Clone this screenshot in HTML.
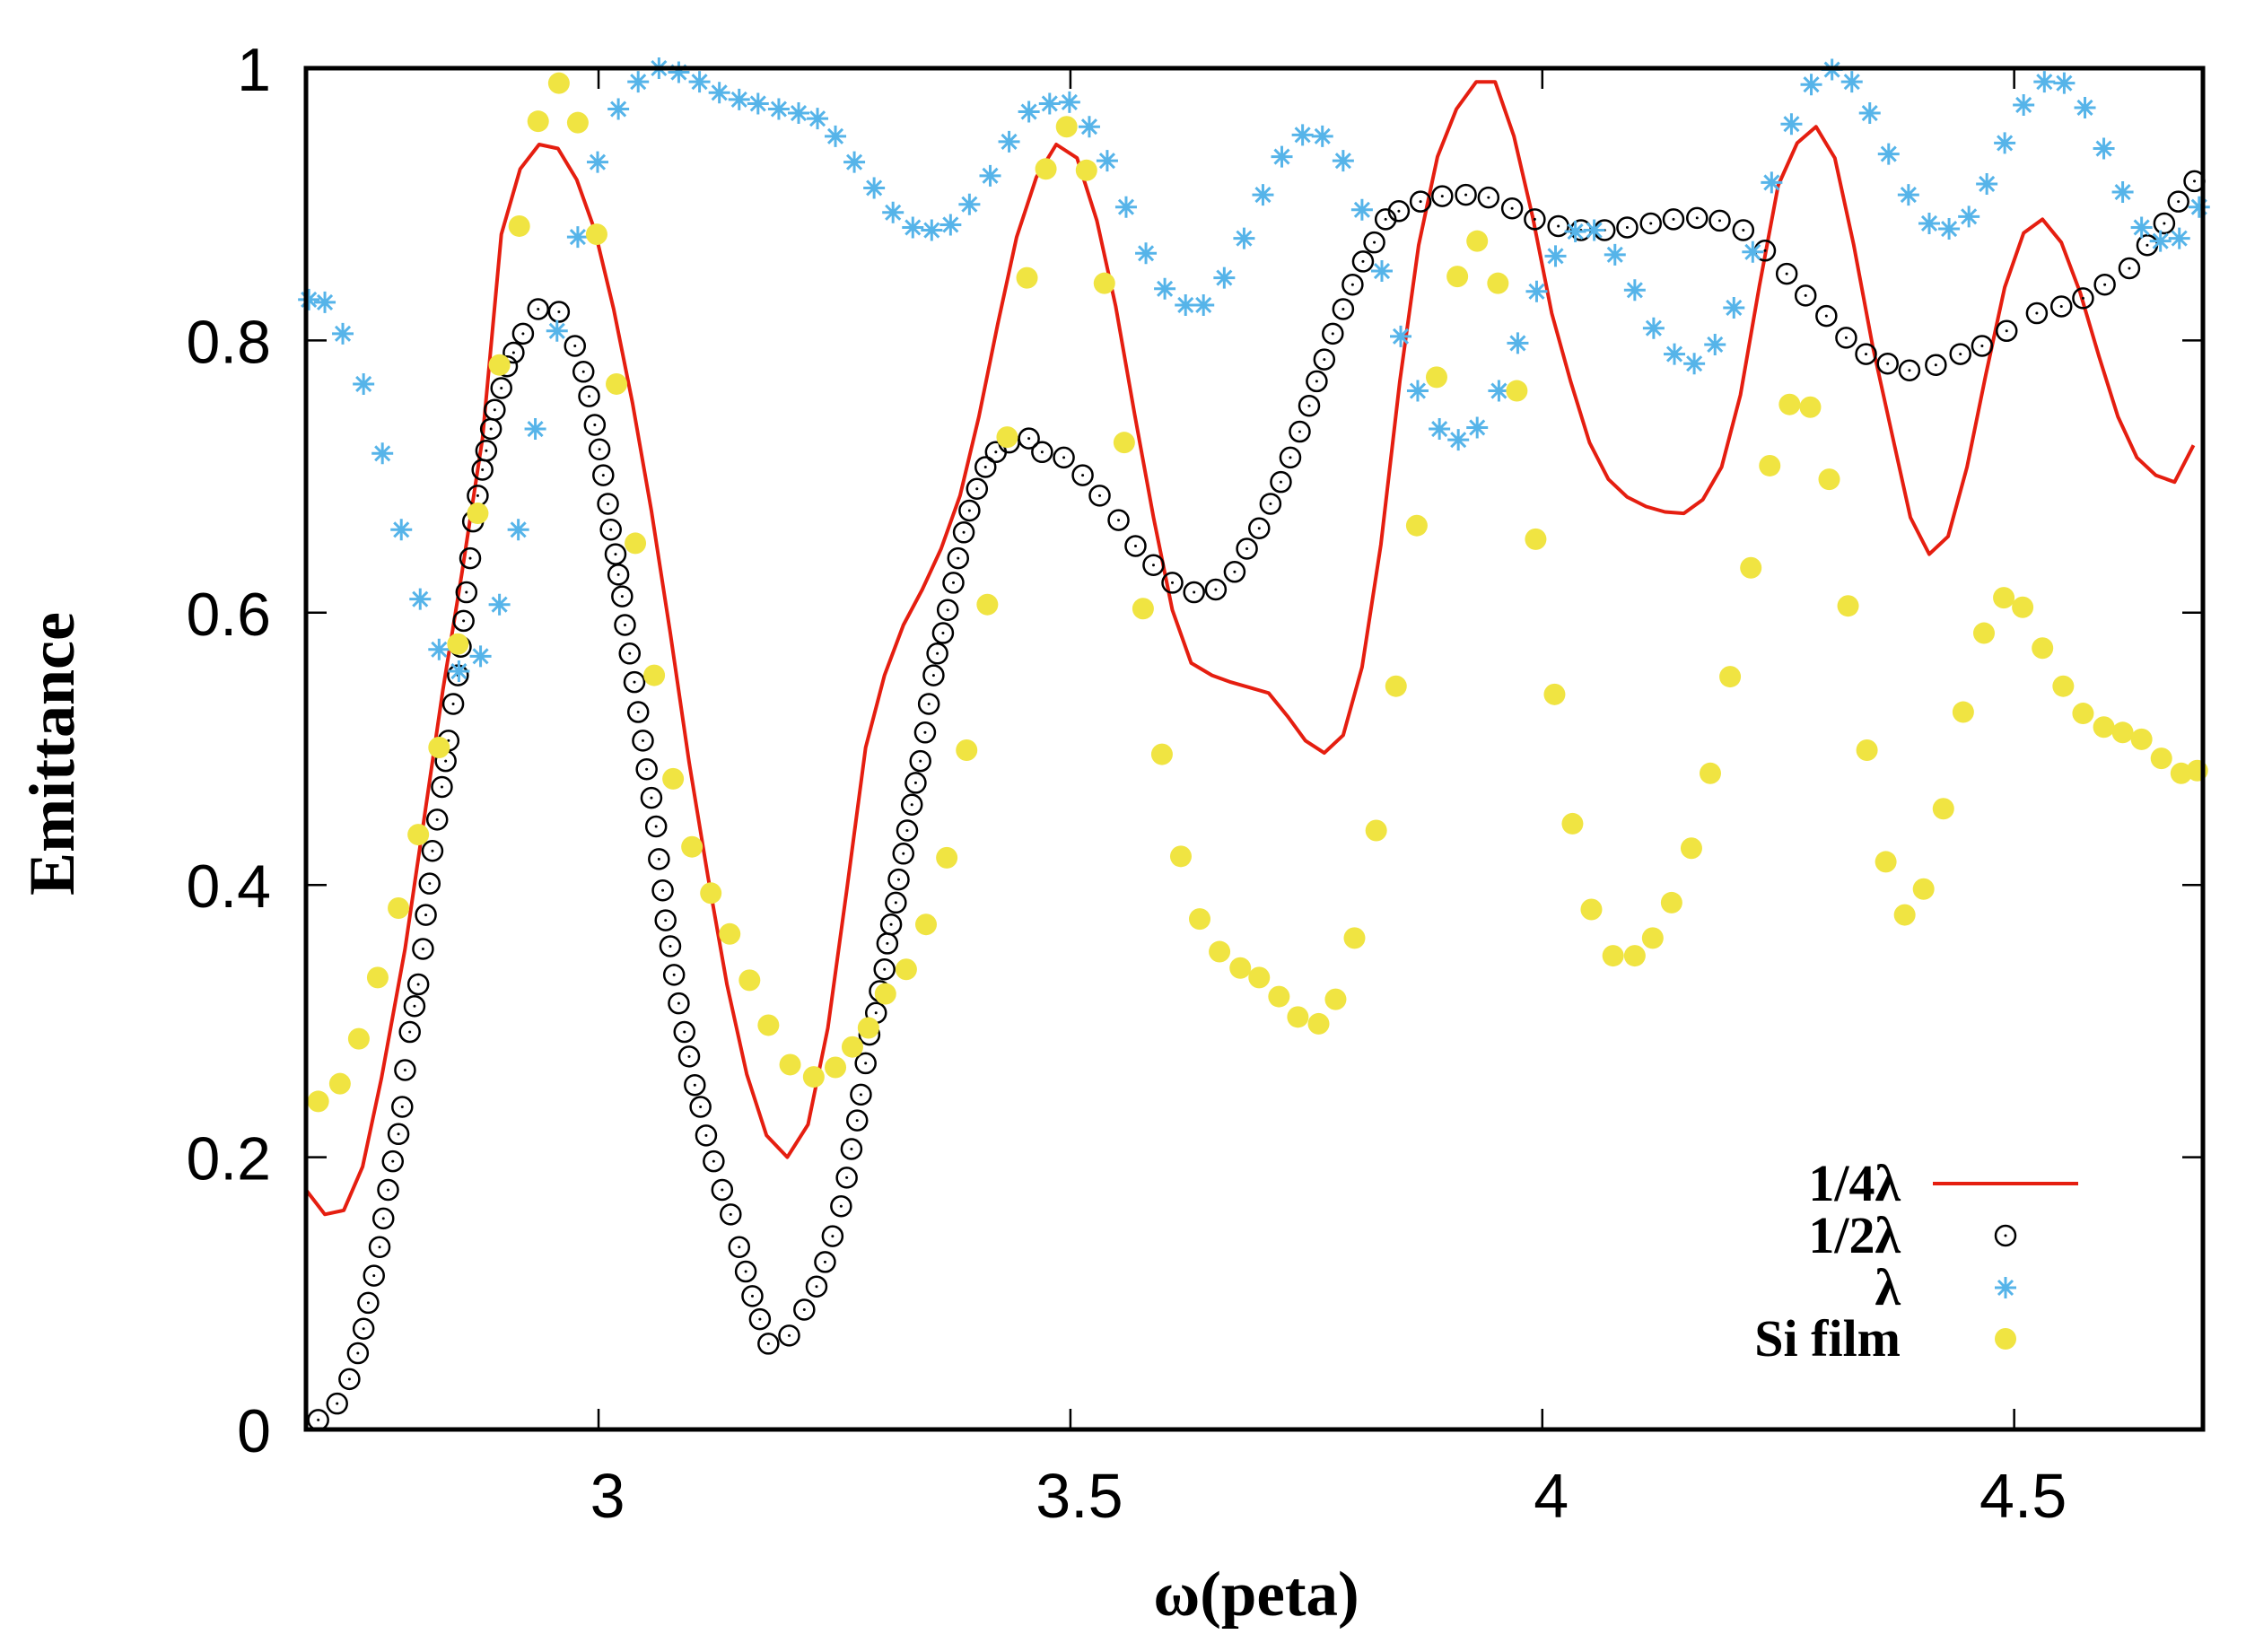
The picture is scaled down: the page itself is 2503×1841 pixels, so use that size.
<!DOCTYPE html>
<html><head><meta charset="utf-8"><style>
html,body{margin:0;padding:0;background:#fff;}
svg{display:block;}
</style></head><body>
<svg id="chart" width="2503" height="1841" viewBox="0 0 2503 1841" xmlns="http://www.w3.org/2000/svg">
<rect x="0" y="0" width="2503" height="1841" fill="#fff"/>
<g id="marks"></g>
<g id="axes"></g>
<text x="1400" y="1800" text-anchor="middle" font-family="Liberation Serif, serif" font-weight="bold" font-size="71">ω(peta)</text>
<text transform="translate(82,840) rotate(-90)" text-anchor="middle" font-family="Liberation Serif, serif" font-weight="bold" font-size="72">Emittance</text>
<g id="legend" font-family="Liberation Serif, serif" font-weight="bold" font-size="58">
<g>
<text x="2118" y="1338" text-anchor="end">1/4λ</text>
<line x1="2154" y1="1319" x2="2316" y2="1319" stroke="#e51e10" stroke-width="4"/>
</g>
<g>
<text x="2118" y="1396" text-anchor="end">1/2λ</text>
<circle cx="2235" cy="1377" r="11" fill="none" stroke="#000" stroke-width="2.5"/>
<circle cx="2235" cy="1377" r="1.5" fill="#000"/>
</g>
<g>
<text x="2118" y="1454" text-anchor="end">λ</text>
<path d="M2223,1435h24M2235,1423v24M2227,1427l16,16M2243,1427l-16,16" stroke="#56b4e9" stroke-width="3"/>
</g>
<g>
<text x="2118" y="1511" text-anchor="end">Si film</text>
<circle cx="2235" cy="1492" r="12" fill="#f0e442"/>
</g>
</g>
</svg>
<script>
const xTicks = [3, 3.5, 4, 4.5];
const xTickLabels = ["3", "3.5", "4", "4.5"];
const yTicks = [0, 0.2, 0.4, 0.6, 0.8, 1];
const yTickLabels = ["0", "0.2", "0.4", "0.6", "0.8", "1"];

const quarterX = [2.69,2.71,2.73,2.75,2.77,2.795,2.815,2.835,2.855,2.877,2.897,2.917,2.937,2.957,2.977,2.996,3.016,3.036,3.056,3.076,3.096,3.116,3.136,3.157,3.178,3.2,3.222,3.243,3.263,3.283,3.303,3.323,3.343,3.363,3.383,3.403,3.423,3.443,3.464,3.485,3.507,3.528,3.548,3.568,3.588,3.608,3.628,3.65,3.67,3.69,3.71,3.73,3.749,3.769,3.789,3.809,3.829,3.849,3.869,3.889,3.909,3.93,3.95,3.97,3.99,4.01,4.03,4.05,4.07,4.09,4.11,4.13,4.15,4.17,4.19,4.21,4.23,4.25,4.27,4.29,4.31,4.33,4.35,4.37,4.39,4.41,4.43,4.45,4.47,4.49,4.51,4.53,4.55,4.57,4.59,4.61,4.63,4.65,4.67,4.69];
const quarterY = [0.176,0.158,0.161,0.193,0.258,0.353,0.448,0.543,0.628,0.728,0.878,0.926,0.944,0.941,0.918,0.881,0.823,0.754,0.675,0.585,0.49,0.406,0.327,0.261,0.216,0.2,0.224,0.295,0.396,0.501,0.554,0.591,0.617,0.647,0.686,0.744,0.812,0.876,0.92,0.944,0.934,0.888,0.825,0.746,0.67,0.602,0.563,0.554,0.549,0.545,0.541,0.524,0.506,0.497,0.51,0.56,0.65,0.77,0.87,0.935,0.97,0.99,0.99,0.95,0.89,0.82,0.77,0.725,0.698,0.685,0.678,0.674,0.673,0.683,0.707,0.76,0.84,0.914,0.945,0.957,0.934,0.87,0.796,0.733,0.67,0.643,0.656,0.707,0.775,0.839,0.879,0.889,0.872,0.835,0.788,0.744,0.714,0.701,0.696,0.723];

const halfX = [2.703,2.723,2.736,2.745,2.751,2.756,2.762,2.768,2.772,2.777,2.782,2.788,2.792,2.795,2.800,2.805,2.809,2.814,2.817,2.821,2.824,2.829,2.834,2.838,2.841,2.846,2.851,2.854,2.857,2.860,2.864,2.867,2.872,2.877,2.881,2.886,2.890,2.897,2.903,2.910,2.920,2.936,2.958,2.975,2.984,2.990,2.996,3.001,3.005,3.010,3.013,3.018,3.021,3.025,3.028,3.033,3.038,3.042,3.047,3.051,3.056,3.061,3.064,3.068,3.071,3.076,3.080,3.085,3.091,3.096,3.102,3.108,3.114,3.122,3.131,3.140,3.149,3.156,3.163,3.171,3.180,3.202,3.218,3.231,3.240,3.248,3.257,3.263,3.268,3.274,3.278,3.283,3.287,3.294,3.298,3.303,3.306,3.310,3.315,3.318,3.323,3.327,3.332,3.336,3.341,3.346,3.350,3.355,3.359,3.365,3.370,3.376,3.381,3.387,3.393,3.401,3.410,3.421,3.435,3.456,3.470,3.493,3.513,3.531,3.551,3.569,3.588,3.608,3.631,3.654,3.674,3.687,3.700,3.712,3.723,3.733,3.743,3.753,3.761,3.769,3.778,3.789,3.799,3.810,3.822,3.834,3.848,3.871,3.894,3.919,3.943,3.968,3.992,4.017,4.041,4.066,4.090,4.115,4.139,4.164,4.188,4.213,4.236,4.259,4.279,4.301,4.322,4.343,4.366,4.389,4.417,4.443,4.466,4.492,4.524,4.550,4.573,4.596,4.622,4.641,4.659,4.674,4.691];
const halfY = [0.007,0.019,0.037,0.056,0.074,0.093,0.113,0.134,0.155,0.176,0.197,0.217,0.237,0.264,0.292,0.311,0.327,0.353,0.378,0.401,0.425,0.448,0.472,0.491,0.506,0.533,0.554,0.575,0.594,0.615,0.640,0.667,0.686,0.705,0.719,0.735,0.749,0.765,0.781,0.791,0.805,0.823,0.821,0.796,0.777,0.759,0.738,0.720,0.701,0.680,0.661,0.643,0.628,0.612,0.591,0.570,0.549,0.527,0.506,0.485,0.464,0.443,0.419,0.396,0.374,0.355,0.334,0.313,0.292,0.274,0.253,0.237,0.216,0.197,0.176,0.158,0.134,0.116,0.098,0.081,0.063,0.069,0.088,0.105,0.123,0.142,0.164,0.185,0.206,0.227,0.246,0.269,0.290,0.306,0.322,0.338,0.357,0.371,0.387,0.404,0.423,0.440,0.459,0.475,0.491,0.512,0.533,0.554,0.570,0.585,0.602,0.622,0.640,0.659,0.675,0.691,0.707,0.718,0.725,0.728,0.718,0.714,0.701,0.686,0.668,0.649,0.635,0.622,0.615,0.617,0.630,0.647,0.662,0.680,0.696,0.714,0.733,0.752,0.770,0.786,0.805,0.823,0.841,0.858,0.872,0.889,0.895,0.902,0.906,0.907,0.905,0.897,0.889,0.884,0.881,0.881,0.883,0.886,0.889,0.890,0.888,0.881,0.866,0.849,0.833,0.818,0.802,0.790,0.783,0.778,0.782,0.790,0.796,0.807,0.820,0.825,0.831,0.841,0.853,0.870,0.886,0.902,0.917];

const lambdaX = [2.693,2.710,2.729,2.751,2.771,2.791,2.811,2.831,2.852,2.875,2.895,2.915,2.933,2.956,2.978,2.999,3.021,3.042,3.064,3.085,3.107,3.128,3.149,3.169,3.191,3.212,3.232,3.251,3.271,3.292,3.312,3.333,3.353,3.373,3.393,3.415,3.435,3.456,3.478,3.499,3.520,3.539,3.559,3.580,3.600,3.622,3.641,3.663,3.684,3.704,3.724,3.746,3.767,3.789,3.809,3.830,3.850,3.868,3.891,3.911,3.931,3.954,3.974,3.994,4.014,4.035,4.055,4.077,4.098,4.118,4.140,4.161,4.183,4.203,4.223,4.243,4.264,4.285,4.307,4.328,4.347,4.367,4.388,4.410,4.431,4.452,4.471,4.490,4.510,4.532,4.553,4.575,4.595,4.615,4.635,4.655,4.675,4.696];
const lambdaY = [0.830,0.828,0.805,0.768,0.717,0.661,0.610,0.573,0.557,0.568,0.606,0.661,0.735,0.807,0.876,0.931,0.970,0.990,1.000,0.997,0.990,0.982,0.977,0.974,0.970,0.967,0.963,0.950,0.931,0.912,0.894,0.883,0.881,0.885,0.900,0.921,0.946,0.968,0.974,0.975,0.957,0.932,0.898,0.864,0.838,0.826,0.826,0.846,0.875,0.907,0.935,0.951,0.950,0.932,0.896,0.851,0.803,0.763,0.735,0.727,0.736,0.763,0.798,0.836,0.862,0.880,0.881,0.863,0.837,0.809,0.790,0.783,0.797,0.824,0.865,0.916,0.959,0.988,0.999,0.990,0.967,0.937,0.907,0.886,0.882,0.891,0.915,0.945,0.973,0.990,0.989,0.971,0.941,0.909,0.883,0.873,0.875,0.898];

const siX = [2.703,2.726,2.746,2.766,2.788,2.809,2.831,2.851,2.872,2.895,2.916,2.936,2.958,2.978,2.998,3.019,3.039,3.059,3.079,3.099,3.119,3.139,3.160,3.180,3.203,3.228,3.251,3.269,3.286,3.304,3.326,3.347,3.369,3.390,3.412,3.433,3.454,3.474,3.496,3.517,3.536,3.557,3.577,3.597,3.617,3.637,3.658,3.680,3.700,3.721,3.741,3.763,3.781,3.801,3.824,3.845,3.867,3.888,3.910,3.931,3.953,3.973,3.993,4.013,4.032,4.052,4.075,4.098,4.117,4.137,4.158,4.178,4.199,4.221,4.241,4.262,4.284,4.304,4.324,4.344,4.364,4.384,4.404,4.425,4.446,4.468,4.489,4.509,4.530,4.552,4.573,4.595,4.615,4.635,4.656,4.677,4.694];
const siY = [0.241,0.254,0.287,0.332,0.383,0.437,0.501,0.577,0.673,0.782,0.884,0.961,0.989,0.960,0.878,0.768,0.651,0.554,0.478,0.428,0.394,0.364,0.330,0.297,0.268,0.259,0.266,0.281,0.295,0.320,0.338,0.371,0.420,0.499,0.606,0.729,0.846,0.926,0.957,0.925,0.842,0.725,0.603,0.496,0.421,0.375,0.351,0.339,0.332,0.318,0.303,0.298,0.316,0.361,0.440,0.546,0.664,0.773,0.847,0.873,0.842,0.763,0.654,0.540,0.445,0.382,0.348,0.348,0.361,0.387,0.427,0.482,0.553,0.633,0.708,0.753,0.751,0.698,0.605,0.499,0.417,0.378,0.397,0.456,0.527,0.585,0.611,0.604,0.574,0.546,0.526,0.516,0.512,0.507,0.493,0.482,0.484];

const NS = "http://www.w3.org/2000/svg";
const L = 341, R = 2455, T = 76, B = 1593;
const X0 = 2.69, X1 = 4.7, Y0 = 0, Y1 = 1;
function xs(v){ return L + (v - X0) / (X1 - X0) * (R - L); }
function ys(v){ return B - (v - Y0) / (Y1 - Y0) * (B - T); }
function mk(tag, attrs, parent){
  const e = document.createElementNS(NS, tag);
  for (const k in attrs) e.setAttribute(k, attrs[k]);
  parent.appendChild(e);
  return e;
}
const marks = document.getElementById('marks');
const axes = document.getElementById('axes');

let d = "";
quarterX.forEach((x, i) => { d += (i ? "L" : "M") + xs(x).toFixed(1) + "," + ys(quarterY[i]).toFixed(1); });
const line = mk('path', {d: d, fill: 'none', stroke: '#e51e10', 'stroke-width': 4, 'stroke-linejoin': 'round'}, marks);



const gHalf = mk('g', {}, marks);


halfX.forEach((x, i) => {
  const c = mk('circle', {cx: xs(x), cy: ys(halfY[i]), r: 11, fill: 'none', stroke: '#000', 'stroke-width': 2.5}, gHalf);
  
  
  mk('circle', {cx: xs(x), cy: ys(halfY[i]), r: 1.5, fill: '#000'}, gHalf);
});

const gLam = mk('g', {}, marks);


lambdaX.forEach((x, i) => {
  const cx = xs(x), cy = ys(lambdaY[i]);
  const p = mk('path', {d: `M${cx-12},${cy}h24M${cx},${cy-12}v24M${cx-8},${cy-8}l16,16M${cx+8},${cy-8}l-16,16`, stroke: '#56b4e9', 'stroke-width': 3}, gLam);
  
  
});

const gSi = mk('g', {}, marks);


siX.forEach((x, i) => {
  const c = mk('circle', {cx: xs(x), cy: ys(siY[i]), r: 12, fill: '#f0e442'}, gSi);
  
  
});

const frame = mk('rect', {x: L, y: T, width: R - L, height: B - T, fill: 'none', stroke: '#000', 'stroke-width': 5}, axes);



xTicks.forEach((v, i) => {
  const x = xs(v);
  mk('line', {x1: x, y1: B, x2: x, y2: B - 23, stroke: '#000', 'stroke-width': 2.5}, axes);
  mk('line', {x1: x, y1: T, x2: x, y2: T + 23, stroke: '#000', 'stroke-width': 2.5}, axes);
  const t = mk('text', {x: x + 10, y: 1691, 'text-anchor': 'middle', 'font-family': 'Liberation Sans, sans-serif', 'font-size': 70}, axes);
  t.textContent = xTickLabels[i];
  
  
});
yTicks.forEach((v, i) => {
  const y = ys(v);
  mk('line', {x1: L, y1: y, x2: L + 23, y2: y, stroke: '#000', 'stroke-width': 2.5}, axes);
  mk('line', {x1: R, y1: y, x2: R - 23, y2: y, stroke: '#000', 'stroke-width': 2.5}, axes);
  const t = mk('text', {x: 302, y: y + 25, 'text-anchor': 'end', 'font-family': 'Liberation Sans, sans-serif', 'font-size': 68}, axes);
  t.textContent = yTickLabels[i];
  
  
});
</script>
</body></html>
